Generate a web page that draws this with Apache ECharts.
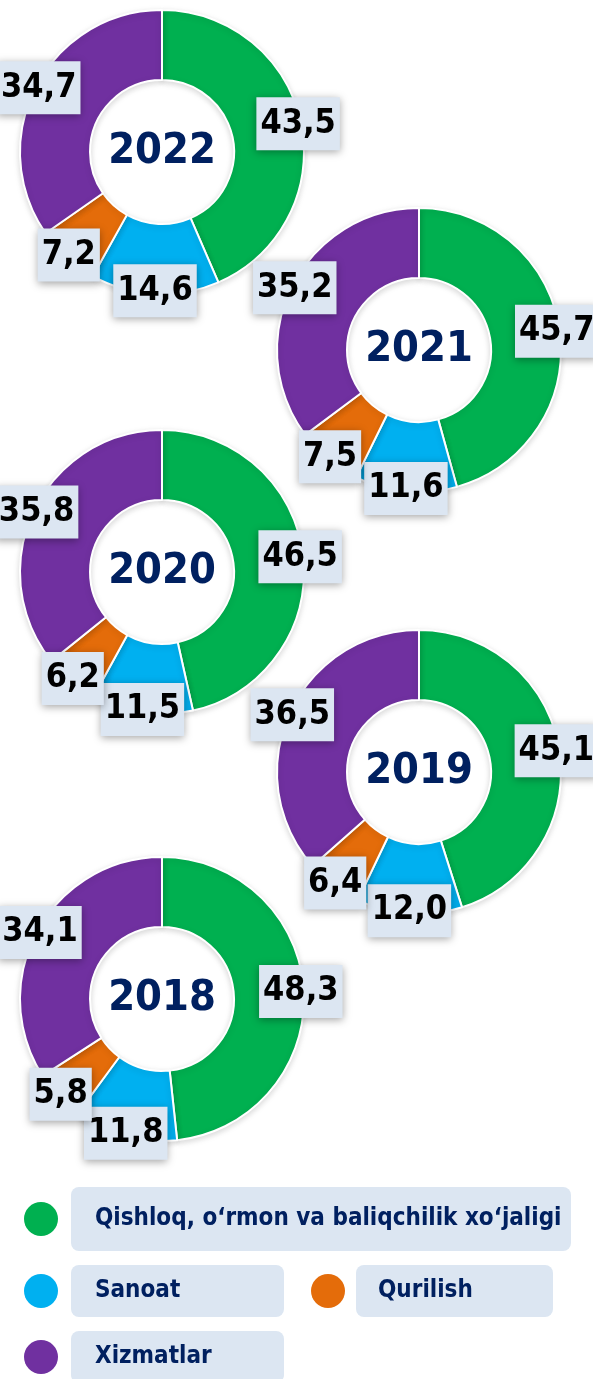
<!DOCTYPE html>
<html>
<head>
<meta charset="utf-8">
<script src="https://cdn.jsdelivr.net/npm/echarts@6/dist/echarts.min.js"></script>
<style>
  html, body { margin: 0; padding: 0; background: #fff; }
  #main { width: 593px; height: 1379px; }
</style>
</head>
<body>
<div id="main"></div>
<script>
var years = ['2022', '2021', '2020', '2019', '2018'];
var categories = ['Qishloq, o‘rmon va baliqchilik xo‘jaligi', 'Sanoat', 'Qurilish', 'Xizmatlar'];
var qishloq = [43.5, 45.7, 46.5, 45.1, 48.3];
var sanoat = [14.6, 11.6, 11.5, 12.0, 11.8];
var qurilish = [7.2, 7.5, 6.2, 6.4, 5.8];
var xizmatlar = [34.7, 35.2, 35.8, 36.5, 34.1];

var colors = ['#00B050', '#00B0F0', '#E46C0A', '#7030A0'];
var centers = [[162, 152], [419, 350], [162, 572], [419, 772], [162, 999]];
var FONT = '"DejaVu Sans Condensed", "Liberation Sans Narrow", sans-serif';

var myChart = echarts.init(document.getElementById('main'));

function yearData(i) {
  return [
    { name: categories[0], value: qishloq[i] },
    { name: categories[1], value: sanoat[i] },
    { name: categories[2], value: qurilish[i] },
    { name: categories[3], value: xizmatlar[i] }
  ];
}

var series = [];
var titles = [];
years.forEach(function (y, i) {
  // the ring itself
  series.push({
    type: 'pie',
    center: centers[i],
    radius: [72, 142],
    startAngle: 90,
    avoidLabelOverlap: false,
    silent: true,
    itemStyle: {
      borderColor: '#fff',
      borderWidth: 2,
      shadowBlur: 6,
      shadowOffsetY: 2,
      shadowColor: 'rgba(0,0,0,0.15)'
    },
    label: { show: false },
    labelLine: { show: false },
    emphasis: { disabled: true },
    data: yearData(i)
  });
  // invisible ring near the outer edge, only to place the value boxes
  series.push({
    type: 'pie',
    center: centers[i],
    radius: [120, 152],
    startAngle: 90,
    avoidLabelOverlap: false,
    silent: true,
    z: 10,
    itemStyle: { color: 'rgba(0,0,0,0)' },
    label: {
      show: true,
      position: 'inside',
      formatter: function (p) { return p.value.toFixed(1).replace('.', ','); },
      fontFamily: FONT,
      fontWeight: 'bold',
      fontSize: 34,
      lineHeight: 40,
      color: '#000',
      backgroundColor: '#DCE6F2',
      padding: [7, 4, 6, 4],
      shadowColor: 'rgba(0,0,0,0.35)',
      shadowBlur: 8,
      shadowOffsetX: 0,
      shadowOffsetY: 2
    },
    labelLayout: { hideOverlap: false },
    labelLine: { show: false },
    emphasis: { disabled: true },
    data: yearData(i)
  });
  titles.push({
    text: y,
    left: centers[i][0],
    top: centers[i][1],
    textAlign: 'center',
    textVerticalAlign: 'middle',
    padding: 0,
    textStyle: { fontFamily: FONT, fontWeight: 'bold', fontSize: 43, color: '#002060' }
  });
});

// left = left edge of the round icon
function legendItem(name, left, top, iconBox, boxW, boxH, padL) {
  var lh = 30;
  var padT = Math.floor((boxH - lh) / 2);
  return {
    data: [name],
    left: left,
    top: top,
    padding: 0,
    icon: 'circle',
    itemWidth: iconBox,
    itemHeight: 34,
    selectedMode: false,
    itemStyle: { borderWidth: 0 },
    textStyle: {
      fontFamily: FONT,
      fontWeight: 'bold',
      fontSize: 24,
      lineHeight: lh,
      color: '#002060',
      backgroundColor: '#DCE6F2',
      borderRadius: 8,
      width: boxW - padL - 10,
      padding: [padT, 10, boxH - lh - padT, padL]
    }
  };
}

myChart.setOption({
  color: colors,
  animation: false,
  title: titles,
  legend: [
    legendItem(categories[0], 24, 1187, 50, 500, 64, 24),
    legendItem(categories[1], 24, 1265, 50, 213, 52, 24),
    legendItem(categories[2], 311, 1265, 46, 197, 52, 22),
    legendItem(categories[3], 24, 1331, 50, 213, 52, 24)
  ],
  series: series
});
</script>
</body>
</html>
